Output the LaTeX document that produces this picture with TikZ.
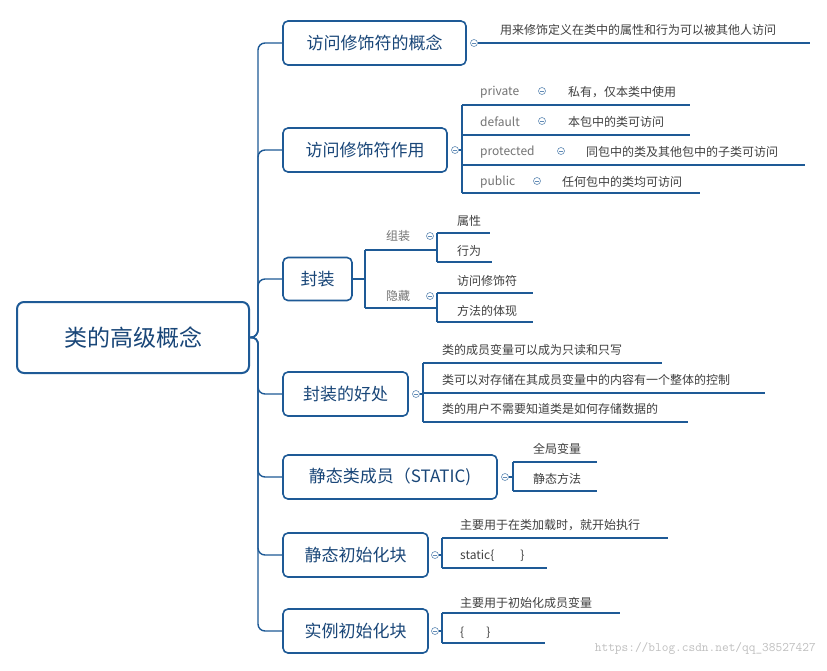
\documentclass[tikz,border=0pt]{standalone}
\usepackage{fontspec}
\setmainfont{Noto Sans CJK SC}
\definecolor{mapblue}{RGB}{30,90,150}
\definecolor{boxtext}{RGB}{25,70,120}
\begin{document}
\begin{tikzpicture}[x=1pt,y=-1pt,
  box/.style={draw=mapblue,line width=1.6pt,rounded corners=5pt,inner sep=0pt,font=\fontsize{17}{20}\selectfont,text=boxtext},
  conn/.style={draw=mapblue,line width=1.4pt,rounded corners=7pt},
  uline/.style={draw=mapblue,line width=1.6pt},
  leaf/.style={font=\fontsize{12}{14}\selectfont,text=black!75,anchor=west,inner sep=0pt},
  gl/.style={font=\fontsize{12}{14}\selectfont,text=black!55,anchor=west,inner sep=0pt},
  col/.style={circle,draw=mapblue!70,line width=0.6pt,minimum size=7pt,inner sep=0pt,path picture={\draw[mapblue!70,line width=0.6pt]([xshift=-2pt]path picture bounding box.center)--([xshift=2pt]path picture bounding box.center);}}]
\useasboundingbox (0,0) rectangle (827,670);
\fill[white] (0,0) rectangle (827,670);
% root
\node[box,minimum width=232pt,minimum height=71pt,font=\fontsize{23}{26}\selectfont,line width=2pt,rounded corners=7pt] (root) at (133,337.5) {类的高级概念};
\coordinate (tr) at (258,337);
% level 1
\node[box,minimum width=183pt,minimum height=44pt] (b1) at (374.5,43) {访问修饰符的概念};
\node[box,minimum width=164pt,minimum height=44pt] (b2) at (365,150) {访问修饰符作用};
\node[box,minimum width=69pt,minimum height=43pt] (b3) at (317.5,279) {封装};
\node[box,minimum width=125pt,minimum height=44pt] (b4) at (345.5,394) {封装的好处};
\node[box,minimum width=214pt,minimum height=44pt] (b5) at (390,477) {静态类成员（STATIC)};
\node[box,minimum width=145pt,minimum height=44pt] (b6) at (355.5,555) {静态初始化块};
\node[box,minimum width=145pt,minimum height=44pt] (b7) at (355.5,631) {实例初始化块};
\foreach \b in {b1,b2,b3,b4,b5,b6,b7}
  \draw[conn] (root.east) -- (tr) |- (\b.west);
% b1
\node[col] (c1) at (474,43) {};
\draw[uline] (c1.east) -- (810,43);
\node[leaf] (t1) at (500,30) {用来修饰定义在类中的属性和行为可以被其他人访问};
% b2
\node[col] (c2) at (455,150) {};
\coordinate (v2) at (462,150);
\draw[uline] (c2.east) -- (v2);
\draw[uline] (462,105) -- (462,193);
\draw[uline] (462,105) -- (690,105);
\draw[uline] (462,135) -- (690,135);
\draw[uline] (462,165) -- (805,165);
\draw[uline] (462,193) -- (700,193);
\node[gl] (p1) at (480,92) {private};
\node[col] (pc1) at (542,91) {};
\node[leaf] (q1) at (568,92) {私有，仅本类中使用};
\node[gl] (p2) at (480,122) {default};
\node[col] (pc2) at (542,121) {};
\node[leaf] (q2) at (568,122) {本包中的类可访问};
\node[gl] (p3) at (480,152) {protected};
\node[col] (pc3) at (561,151) {};
\node[leaf] (q3) at (586,152) {同包中的类及其他包中的子类可访问};
\node[gl] (p4) at (480,182) {public};
\node[col] (pc4) at (537,181) {};
\node[leaf] (q4) at (562,182) {任何包中的类均可访问};
% b3
\draw[uline] (b3.east) -- (365,279);
\draw[uline] (365,250) -- (365,308);
\draw[uline] (365,250) -- (437,250);
\draw[uline] (365,308) -- (437,308);
\node[gl] (z1) at (386,236) {组装};
\node[col] (zc1) at (430,236) {};
\node[gl] (z2) at (386,296) {隐藏};
\node[col] (zc2) at (430,296) {};
\draw[uline] (437,233) -- (437,262);
\draw[uline] (437,233) -- (490,233);
\draw[uline] (437,262) -- (492,262);
\node[leaf] (s1) at (457,221) {属性};
\node[leaf] (s2) at (457,251) {行为};
\draw[uline] (437,293) -- (437,322);
\draw[uline] (437,293) -- (533,293);
\draw[uline] (437,322) -- (533,322);
\node[leaf] (s3) at (457,281) {访问修饰符};
\node[leaf] (s4) at (457,311) {方法的体现};
% b4
\node[col] (c4) at (416,394) {};
\draw[uline] (c4.east) -- (423,394);
\draw[uline] (423,363) -- (423,422);
\draw[uline] (423,363) -- (662,363);
\draw[uline] (423,393) -- (765,393);
\draw[uline] (423,422) -- (688,422);
\node[leaf] (h1) at (442,350) {类的成员变量可以成为只读和只写};
\node[leaf] (h2) at (442,380) {类可以对存储在其成员变量中的内容有一个整体的控制};
\node[leaf] (h3) at (442,409) {类的用户不需要知道类是如何存储数据的};
% b5
\node[col] (c5) at (505,477) {};
\draw[uline] (c5.east) -- (513,477);
\draw[uline] (513,462) -- (513,491);
\draw[uline] (513,462) -- (597,462);
\draw[uline] (513,491) -- (597,491);
\node[leaf] (g1) at (533,449) {全局变量};
\node[leaf] (g2) at (533,479) {静态方法};
% b6
\node[col] (c6) at (435,555) {};
\draw[uline] (c6.east) -- (442,555);
\draw[uline] (442,538) -- (442,568);
\draw[uline] (442,538) -- (668,538);
\draw[uline] (442,568) -- (547,568);
\node[leaf] (k1) at (460,525) {主要用于在类加载时，就开始执行};
\node[leaf] (k2) at (460,556) {static\{\hspace{26pt}\}};
% b7
\node[col] (c7) at (435,631) {};
\draw[uline] (c7.east) -- (442,631);
\draw[uline] (442,613) -- (442,643);
\draw[uline] (442,613) -- (620,613);
\draw[uline] (442,643) -- (545,643);
\node[leaf] (m1) at (460,603) {主要用于初始化成员变量};
\node[leaf] (m2) at (460,633) {\{\hspace{22pt}\}};
% watermark
\node[anchor=east,font=\ttfamily\fontsize{13}{15}\selectfont,text=black!25,inner sep=0pt] (wm) at (816,648) {https://blog.csdn.net/qq\_38527427};
\end{tikzpicture}
\end{document}
